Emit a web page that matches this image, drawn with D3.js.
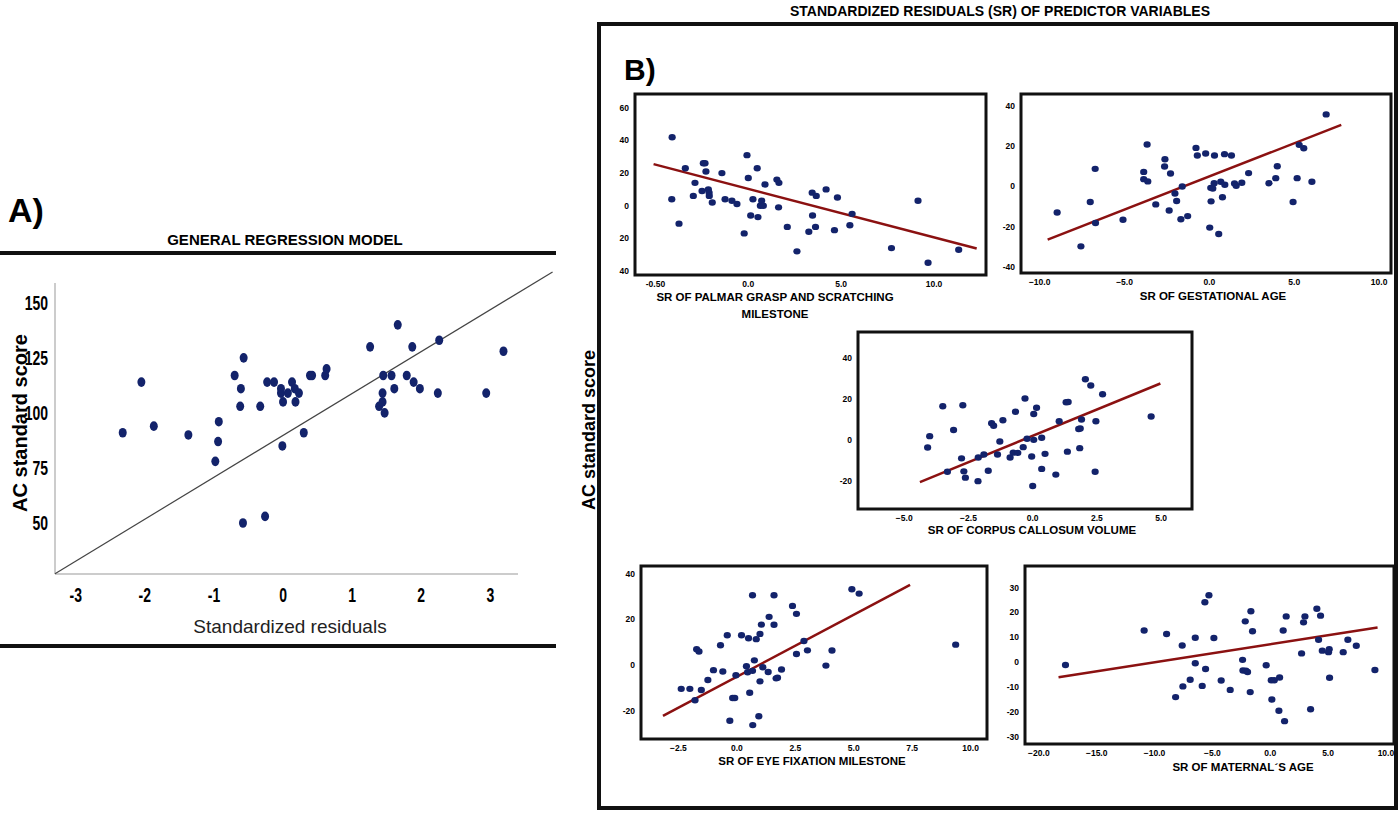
<!DOCTYPE html>
<html><head><meta charset="utf-8">
<script src="https://cdn.jsdelivr.net/npm/d3@7"></script>
<style>
body{margin:0;background:#fff;}
text{font-family:"Liberation Sans",Arial,sans-serif;}
</style></head>
<body><svg id="chart" width="1398" height="818"></svg>
<script>
// Panel A: general regression model
var residX = [-2.32,-2.05,-1.87,-1.37,-0.98,-0.94,-0.93,-0.70,-0.62,-0.61,-0.57,-0.58,-0.33,-0.26,-0.23,-0.13,-0.03,-0.03,0.00,-0.01,0.07,0.13,0.17,0.23,0.18,0.30,0.39,0.42,0.61,0.63,1.26,1.39,1.44,1.44,1.45,1.47,1.57,1.61,1.66,1.79,1.87,1.89,1.98,2.24,2.26,2.94,3.19];
var acScore = [91,114,94,90,78,87,96,117,103,111,125,50,103,53,114,114,111,109,105,85,109,114,111,109,105,91,117,117,117,120,130,103,105,109,117,100,117,111,140,117,130,114,111,109,133,109,128];
var fitA = [[-3.3,27],[3.9,164]];

// Panel B subplots
var palmarX = [-4.1,-4.12,-3.73,-3.39,-2.87,-2.96,-2.49,-2.42,-2.33,-2.28,-2.15,-2.11,-2.10,-1.94,-1.42,-1.25,-0.88,-0.61,-0.22,-0.07,0.0,0.13,0.25,0.48,0.52,0.65,0.72,0.81,0.90,1.54,1.65,1.63,2.10,2.62,3.26,3.44,3.46,3.62,3.66,4.19,4.64,4.80,5.47,5.59,7.71,9.14,9.68,11.33];
var palmarY = [42,4,-11,23,14,6,9,26,26,21,10,8,6,2,20,4,3,1,-17,31,17,-6,4,23,-7,0,3,0,13,16,14,-1,-13,-28,-16,8,-6,-13,6,10,-15,5,-12,-5,-26,3,-35,-27];
var palmarFit = [[-5.1,25.5],[12.3,-26.3]];

var gestX = [-8.97,-7.57,-7.02,-6.73,-6.71,-5.09,-3.87,-3.87,-3.67,-3.63,-3.16,-2.62,-2.64,-2.37,-2.29,-2.03,-1.93,-1.68,-1.60,-1.28,-0.79,-0.71,-0.22,0.02,0.08,0.10,0.20,0.28,0.30,0.55,0.67,0.77,0.89,0.91,1.30,1.48,1.58,1.91,2.31,3.51,3.91,4.00,4.93,5.17,5.29,5.56,6.04,6.88];
var gestY = [-12.9,-29.7,-7.7,8.7,-18.1,-16.5,7.2,3.6,20.8,2.5,-8.9,13.5,9.9,-11.9,6.4,-3.5,-7.2,-16.3,0,-14.7,19.1,15.3,16.3,-20.4,-0.7,-7.4,-1,1.6,15.3,-23.6,2.3,-5.4,16,0.8,15.3,1.5,0.3,1.8,6.6,1.6,4.1,10,-7.7,4.1,20.6,18.9,2.3,35.7];
var gestFit = [[-9.53,-26.4],[7.77,30.5]];

var callosumX = [-4.09,-4.01,-3.50,-3.32,-3.08,-2.77,-2.72,-2.68,-2.62,-2.13,-2.12,-1.90,-1.73,-1.60,-1.52,-1.37,-1.28,-1.16,-0.88,-0.76,-0.67,-0.58,-0.37,-0.30,-0.22,-0.04,0.0,0.04,0.04,0.15,0.35,0.35,0.48,0.90,1.03,1.30,1.38,1.35,1.79,1.85,1.83,1.90,2.05,2.26,2.43,2.46,2.72,4.61];
var callosumY = [-3.8,1.8,16.5,-15.7,4.8,-9.1,17,-15.5,-18.6,-20.3,-8.7,-7.2,-15.2,8.2,6.9,-7.2,-0.8,9.6,-8.7,-6.3,13.8,-6.4,-3.6,20.3,0.5,-8.2,-22.7,12.7,0,15.8,1,-14.3,-6.9,-17.1,9.1,18.5,18.6,-5.8,5.3,5.6,-4.1,10,29.8,26.7,-15.7,9.1,22.4,11.5];
var callosumFit = [[-4.39,-20.8],[4.97,27.7]];

var eyeX = [-2.38,-2.01,-1.79,-1.72,-1.62,-1.52,-1.24,-1.00,-0.70,-0.60,-0.41,-0.30,-0.18,-0.09,-0.04,0.20,0.41,0.46,0.50,0.55,0.67,0.67,0.68,0.75,0.83,0.94,0.99,0.99,1.05,1.11,1.34,1.38,1.59,1.59,1.68,1.74,1.91,2.38,2.55,2.55,2.87,3.02,3.81,4.07,4.92,5.23,9.36];
var eyeY = [-10.5,-10.5,-15.5,6.9,5.9,-11,-6.6,-2.3,8.6,-2.9,13,-24.5,-14.5,-14.5,-4.5,13,-0.6,-3.2,11.7,-12.2,30.6,-2.6,-26.4,2,11.3,-22.5,-7.2,13.6,17.7,-1,-3.1,21.1,30.6,17.6,-5.9,-5.6,-2,25.9,22.4,4.8,10.5,6.4,-0.3,6.3,33.2,31.3,8.9];
var eyeFit = [[-3.16,-22.4],[7.41,35.1]];

var maternalX = [-17.7,-10.9,-8.96,-8.18,-7.61,-7.55,-6.92,-6.48,-6.48,-5.88,-5.65,-5.59,-5.30,-4.87,-4.24,-3.46,-2.39,-2.36,-2.16,-2.10,-1.96,-1.73,-1.67,-1.53,-0.35,0.09,0.14,0.35,0.75,0.81,1.12,1.24,1.38,2.71,2.88,3.00,3.49,4.03,4.18,4.35,4.50,5.04,5.10,5.13,6.31,6.71,7.44,9.05];
var maternalY = [-1.2,12.7,11.3,-14.1,6.7,-9.8,-7.1,9.8,-0.5,-9.6,24.1,-2.8,26.9,9.7,-7.4,-11.2,0.9,-3.4,16.4,-3.5,-4.0,-12.1,20.5,12.4,-1.3,-7.3,-15.1,-7.3,-19.6,-6.2,12.7,-23.8,18.4,3.5,16,18.4,-19,21.5,9,18.7,4.6,4,5.2,-6.3,4,9,6.6,-3.2];
var maternalFit = [[-18.3,-6.1],[9.28,13.9]];

var navy = "#13236b", red = "#8b1111";
var svg = d3.select("#chart");

// ---- Panel A ----
var ax = d3.scaleLinear().domain([-3.3, 3.4]).range([55, 518]);
var ay = d3.scaleLinear().domain([27.3, 159]).range([573, 283]);
svg.append("text").attr("x", 8).attr("y", 222).attr("font-size", 34).attr("font-weight", "bold").text("A)");
svg.append("text").attr("x", 285).attr("y", 245).attr("text-anchor", "middle").attr("font-size", 15)
  .attr("font-weight", "bold").attr("font-family", "'DejaVu Serif',serif").text("GENERAL REGRESSION MODEL");
svg.append("rect").attr("x", 0).attr("y", 251).attr("width", 556).attr("height", 4).attr("fill", "#111");
svg.append("rect").attr("x", 0).attr("y", 644).attr("width", 556).attr("height", 4).attr("fill", "#111");
svg.append("line").attr("x1", 55).attr("x2", 55).attr("y1", 283).attr("y2", 574).attr("stroke", "#bbb").attr("stroke-width", 1.5);
svg.append("line").attr("x1", 55).attr("x2", 518).attr("y1", 574).attr("y2", 574).attr("stroke", "#bbb").attr("stroke-width", 1.5);
// narrow bold tick labels (condensed with a horizontal scale)
[-3, -2, -1, 0, 1, 2, 3].forEach(function(t) {
  svg.append("text").attr("transform", "translate(" + ax(t) + ",602) scale(0.7,1)").attr("text-anchor", "middle")
    .attr("font-size", 20).attr("font-weight", "bold").text(t);
});
[50, 75, 100, 125, 150].forEach(function(t) {
  svg.append("text").attr("transform", "translate(48," + (ay(t) + 7) + ") scale(0.7,1)").attr("text-anchor", "end")
    .attr("font-size", 20).attr("font-weight", "bold").text(t);
});
svg.append("line").attr("x1", ax(fitA[0][0])).attr("y1", ay(fitA[0][1])).attr("x2", ax(fitA[1][0])).attr("y2", ay(fitA[1][1]))
  .attr("stroke", "#444").attr("stroke-width", 1.2);
svg.append("g").selectAll("ellipse").data(residX).join("ellipse")
  .attr("cx", function(d) { return ax(d); }).attr("cy", function(d, i) { return ay(acScore[i]); })
  .attr("rx", 4).attr("ry", 4.8).attr("fill", navy);
svg.append("text").attr("transform", "translate(20,423) rotate(-90)").attr("dy", "0.35em").attr("text-anchor", "middle")
  .attr("font-size", 20).attr("font-weight", "bold").text("AC standard score");
svg.append("text").attr("x", 290).attr("y", 633).attr("text-anchor", "middle").attr("font-size", 19)
  .attr("fill", "#222").text("Standardized residuals");

// ---- Panel B ----
svg.append("rect").attr("x", 599).attr("y", 24).attr("width", 797).attr("height", 784)
  .attr("fill", "none").attr("stroke", "#111").attr("stroke-width", 4);
svg.append("text").attr("x", 1000).attr("y", 16).attr("text-anchor", "middle").attr("font-size", 14)
  .attr("font-weight", "bold").attr("font-family", "'DejaVu Serif',serif").text("STANDARDIZED RESIDUALS (SR) OF PREDICTOR VARIABLES");
svg.append("text").attr("x", 624).attr("y", 80).attr("font-size", 30).attr("font-weight", "bold").text("B)");
svg.append("text").attr("transform", "translate(589,430) rotate(-90)").attr("dy", "0.35em").attr("text-anchor", "middle")
  .attr("font-size", 18).attr("font-weight", "bold").text("AC standard score");

function scatter(p) {
  var x = d3.scaleLinear().domain(p.xd).range([p.x0, p.x1]);
  var y = d3.scaleLinear().domain(p.yd).range([p.y1, p.y0]);
  var g = svg.append("g");
  g.append("rect").attr("x", p.x0).attr("y", p.y0).attr("width", p.x1 - p.x0).attr("height", p.y1 - p.y0)
    .attr("fill", "none").attr("stroke", "#111").attr("stroke-width", 3);
  p.xt.forEach(function(t, i) {
    g.append("text").attr("x", x(t)).attr("y", p.y1 + 12).attr("text-anchor", "middle").attr("font-size", 8.5)
      .attr("font-weight", "bold").text(p.xl ? p.xl[i] : d3.format(".1f")(t));
  });
  p.yt.forEach(function(t) {
    g.append("text").attr("x", p.x0 - 6).attr("y", y(t) + 3).attr("text-anchor", "end").attr("font-size", 8.5)
      .attr("font-weight", "bold").text(p.absY ? Math.abs(t) : t);
  });
  g.append("line").attr("x1", x(p.fit[0][0])).attr("y1", y(p.fit[0][1])).attr("x2", x(p.fit[1][0])).attr("y2", y(p.fit[1][1]))
    .attr("stroke", red).attr("stroke-width", 2.5);
  g.selectAll("ellipse").data(p.xs).join("ellipse")
    .attr("cx", function(d) { return x(d); }).attr("cy", function(d, i) { return y(p.ys[i]); })
    .attr("rx", 3.6).attr("ry", 3.2).attr("fill", navy);
  p.label.forEach(function(s, i) {
    g.append("text").attr("x", p.lx).attr("y", p.ly + i * 17).attr("text-anchor", "middle").attr("font-size", 11.5)
      .attr("font-weight", "bold").text(s);
  });
}

scatter({x0: 635, x1: 986, y0: 94, y1: 275, xd: [-6.1, 12.8], yd: [-42.5, 68.5],
  xt: [-5, 0, 5, 10], xl: ["-0.50", "0.0", "5.0", "10.0"], yt: [-40, -20, 0, 20, 40, 60], absY: true,
  xs: palmarX, ys: palmarY, fit: palmarFit, label: ["SR OF PALMAR GRASP AND SCRATCHING", "MILESTONE"], lx: 775, ly: 301});
scatter({x0: 1021, x1: 1391, y0: 94, y1: 273, xd: [-11.1, 10.7], yd: [-42.9, 45.8],
  xt: [-10, -5, 0, 5, 10], yt: [-40, -20, 0, 20, 40],
  xs: gestX, ys: gestY, fit: gestFit, label: ["SR OF GESTATIONAL AGE"], lx: 1213, ly: 300});
scatter({x0: 858, x1: 1192, y0: 332, y1: 509, xd: [-6.8, 6.2], yd: [-34, 53],
  xt: [-5, -2.5, 0, 2.5, 5], yt: [-20, 0, 20, 40],
  xs: callosumX, ys: callosumY, fit: callosumFit, label: ["SR OF CORPUS CALLOSUM VOLUME"], lx: 1032, ly: 534});
scatter({x0: 641, x1: 987, y0: 566, y1: 739, xd: [-4.1, 10.7], yd: [-32.5, 43.4],
  xt: [-2.5, 0, 2.5, 5, 7.5, 10], yt: [-20, 0, 20, 40],
  xs: eyeX, ys: eyeY, fit: eyeFit, label: ["SR OF EYE FIXATION MILESTONE"], lx: 812, ly: 765});
scatter({x0: 1025, x1: 1394, y0: 566, y1: 744, xd: [-21.2, 10.7], yd: [-33, 38.7],
  xt: [-20, -15, -10, -5, 0, 5, 10], yt: [-30, -20, -10, 0, 10, 20, 30],
  xs: maternalX, ys: maternalY, fit: maternalFit, label: ["SR OF MATERNAL´S AGE"], lx: 1243, ly: 771});
</script>
</body></html>
